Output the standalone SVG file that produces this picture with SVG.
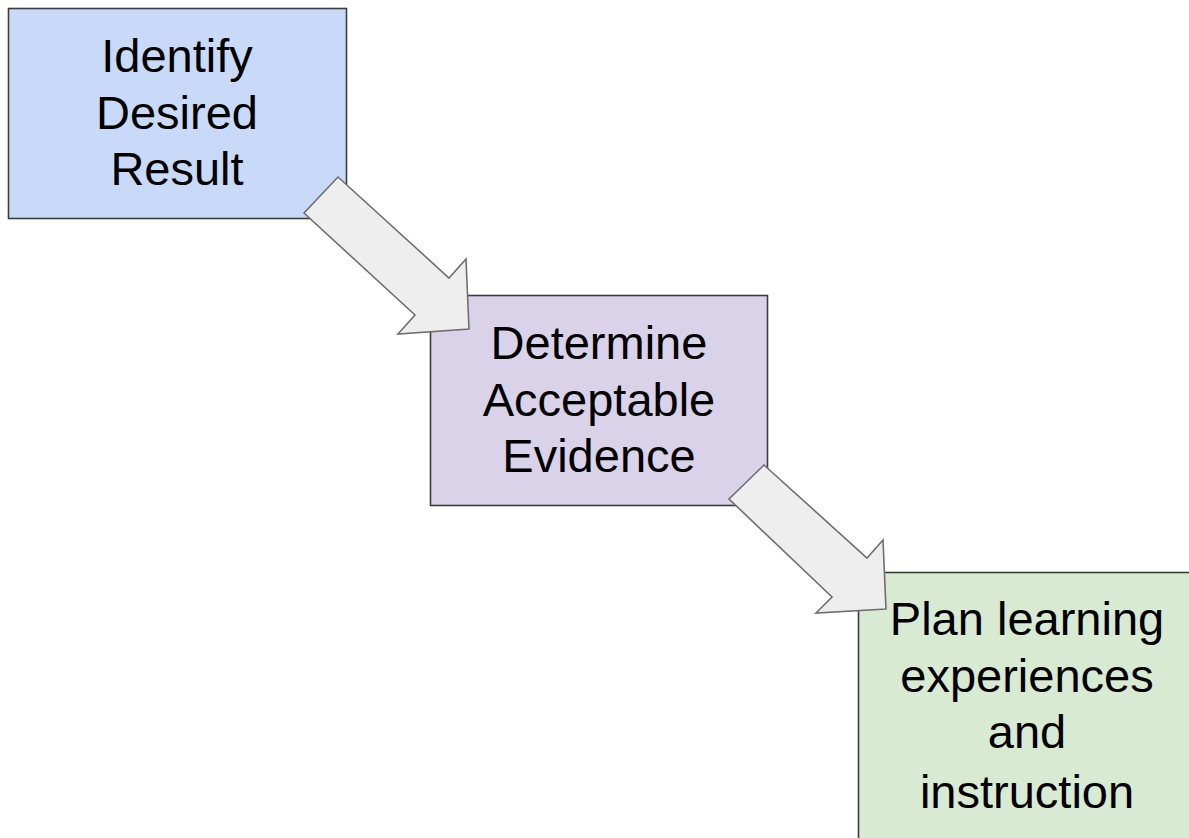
<svg xmlns="http://www.w3.org/2000/svg" width="1189" height="838" viewBox="0 0 1189 838">
<style>
.box{stroke:#3c3c3c;stroke-width:1.6}
.lbl{font-family:"Liberation Sans",Arial,sans-serif;font-size:47px;fill:#000;text-anchor:middle}
.arr{fill:#eeeeee;stroke:#6f6f6f;stroke-width:1.6;stroke-linejoin:miter}
</style>
<rect width="1189" height="838" fill="#fff"/>
<g id="node-identify">
<rect class="box" x="8.5" y="8.5" width="338" height="210" fill="#c9daf8"/>
<text class="lbl" x="177" y="72">Identify</text>
<text class="lbl" x="177" y="128.5">Desired</text>
<text class="lbl" x="177" y="185">Result</text>
</g>
<g id="node-determine">
<rect class="box" x="430.5" y="295.5" width="337" height="210" fill="#d9d2e9"/>
<text class="lbl" x="599" y="359">Determine</text>
<text class="lbl" x="599" y="415.5">Acceptable</text>
<text class="lbl" x="599" y="472">Evidence</text>
</g>
<g id="node-plan">
<rect class="box" x="858.5" y="572.5" width="345" height="290" fill="#d9ead3"/>
<text class="lbl" x="1027" y="635">Plan learning</text>
<text class="lbl" x="1027" y="692">experiences</text>
<text class="lbl" x="1027" y="748">and</text>
<text class="lbl" x="1027" y="808">instruction</text>
</g>
<g id="connectors">
<polygon class="arr" points="338,177 449,278 466,259 469,329 398,334 415,315 304,213"/>
<polygon class="arr" points="764,465 867,558 883,540 886,609 816,613 832,597 729,499"/>
</g>
</svg>
